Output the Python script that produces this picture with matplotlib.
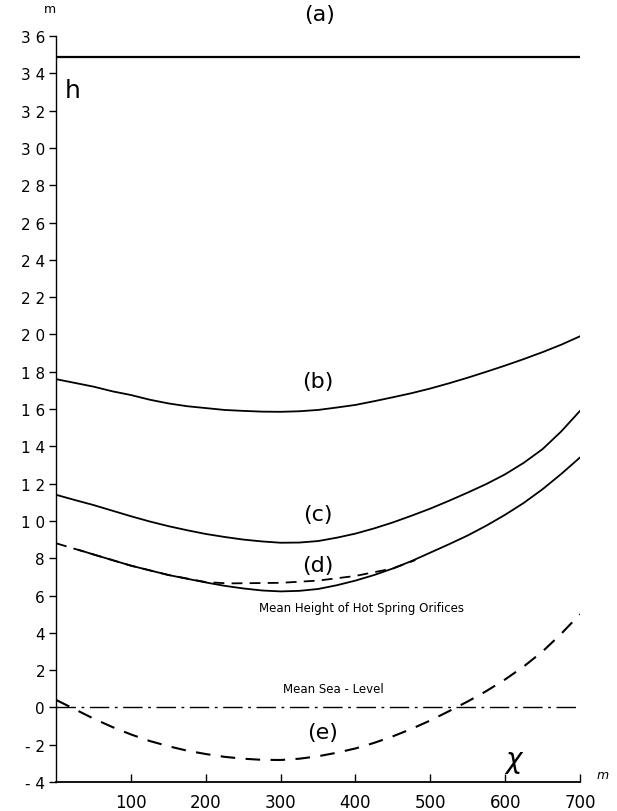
import matplotlib.pyplot as plt

# curva (a): nivel constante
a_x = [0, 700]
a_y = [34.85, 34.85]

xs = [0, 25, 50, 75, 100, 125, 150, 175, 200, 225, 250, 275, 300, 325, 350,
      375, 400, 425, 450, 475, 500, 525, 550, 575, 600, 625, 650, 675, 700]

# curva (b)
b_x = xs
b_y = [17.6, 17.4, 17.2, 16.95, 16.75, 16.5, 16.3, 16.15, 16.05, 15.95, 15.9, 15.86, 15.85, 15.88, 15.95,
       16.08, 16.22, 16.42, 16.63, 16.85, 17.1, 17.38, 17.68, 18.0, 18.33, 18.68, 19.05, 19.45, 19.9]

# curva (c)
c_x = xs
c_y = [11.4, 11.12, 10.85, 10.55, 10.25, 9.97, 9.72, 9.5, 9.3, 9.14, 9.0, 8.9, 8.83, 8.84, 8.92,
       9.1, 9.32, 9.6, 9.92, 10.28, 10.66, 11.08, 11.52, 11.98, 12.5, 13.12, 13.85, 14.8, 15.9]

# curva (d)
d_x = [30] + xs[2:]
d_y = [8.45, 8.2, 7.9, 7.6, 7.35, 7.1, 6.9, 6.7, 6.52, 6.38, 6.27, 6.22, 6.25, 6.35,
       6.55, 6.8, 7.1, 7.45, 7.85, 8.3, 8.75, 9.22, 9.75, 10.33, 10.97, 11.7, 12.52, 13.4]

# altura media de los orificios (discontinua)
orif_x = [0, 50, 100, 150, 200, 230, 300, 350, 400, 450, 480]
orif_y = [8.8, 8.2, 7.6, 7.1, 6.72, 6.65, 6.68, 6.8, 7.05, 7.45, 7.9]

# curva (e)
e_x = xs
e_y = [0.4, -0.1, -0.6, -1.05, -1.45, -1.8, -2.08, -2.32, -2.5, -2.65, -2.75, -2.81, -2.82, -2.75, -2.62,
       -2.43, -2.2, -1.9, -1.55, -1.15, -0.7, -0.2, 0.32, 0.88, 1.5, 2.2, 3.0, 3.95, 5.0]

# nivel medio del mar
sea_x = [0, 700]
sea_y = [0, 0]

y_ticks = list(range(-4, 37, 2))
y_labels = [' '.join(str(t)) if t >= 10 else ('- ' + str(-t) if t < 0 else str(t)) for t in y_ticks]
x_ticks = [100, 200, 300, 400, 500, 600, 700]

fig = plt.figure(figsize=(6.17, 8.12), dpi=100)
ax = fig.add_axes([0.091, 0.0357, 0.849, 0.9187])

ax.plot(a_x, a_y, color='black', lw=1.6)
ax.plot(b_x, b_y, color='black', lw=1.3)
ax.plot(c_x, c_y, color='black', lw=1.3)
ax.plot(d_x, d_y, color='black', lw=1.3)
ax.plot(orif_x, orif_y, color='black', lw=1.3, dashes=(6, 4))
ax.plot(e_x, e_y, color='black', lw=1.5, dashes=(7, 5))
ax.plot(sea_x, sea_y, color='black', lw=1.0, dashes=(14, 4, 2, 4))

ax.set_xlim(0, 700)
ax.set_ylim(-4, 36)
ax.spines['top'].set_visible(False)
ax.spines['right'].set_visible(False)
ax.spines['left'].set_linewidth(1.0)
ax.spines['bottom'].set_linewidth(1.3)

ax.set_yticks(y_ticks)
ax.set_yticklabels(y_labels, fontsize=11)
ax.set_xticks(x_ticks)
ax.set_xticklabels([str(t) for t in x_ticks], fontsize=12)
ax.tick_params(axis='y', direction='out', length=5, width=1, pad=3)
ax.tick_params(axis='x', direction='in', length=6, width=1, pad=8)

txt = dict(ha='center', va='center', color='black')
ax.text(352, 37.2, '(a)', fontsize=16, clip_on=False, **txt)
ax.text(349, 17.5, '(b)', fontsize=16, **txt)
ax.text(350, 10.35, '(c)', fontsize=16, **txt)
ax.text(350, 7.65, '(d)', fontsize=16, **txt)
ax.text(356, -1.3, '(e)', fontsize=16, **txt)
ax.text(22, 33.1, 'h', fontsize=18, **txt)
ax.text(612, -2.85, r'$\chi$', fontsize=20, **txt)
ax.text(408, 5.35, 'Mean Height of Hot Spring Orifices', fontsize=8.5, **txt)
ax.text(370, 1.0, 'Mean Sea - Level', fontsize=8.5, **txt)
ax.text(-8, 37.5, 'm', fontsize=9, clip_on=False, **txt)
ax.text(730, -3.6, 'm', fontsize=9, style='italic', clip_on=False, **txt)

plt.savefig('out.png', dpi=100)
